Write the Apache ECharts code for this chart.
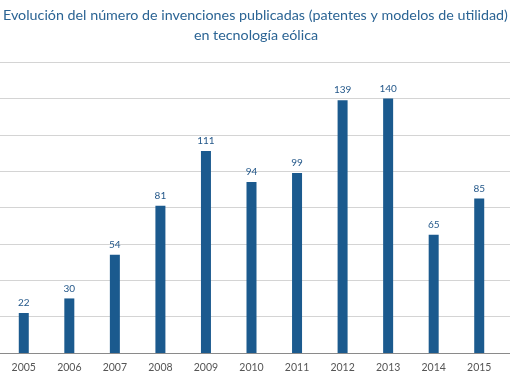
<!DOCTYPE html>
<html><head><meta charset="utf-8">
<script src="https://cdn.jsdelivr.net/npm/echarts@6/dist/echarts.min.js"></script>
<style>html,body{margin:0;padding:0;background:#fff}#c{width:510px;height:382px}</style>
</head><body><div id="c"></div>
<script>
var years = ['2005','2006','2007','2008','2009','2010','2011','2012','2013','2014','2015'];
var inventions = [22, 30, 54, 81, 111, 94, 99, 139, 140, 65, 85];
var titleLine1 = 'Evolución del número de invenciones publicadas (patentes y modelos de utilidad)';
var titleLine2 = 'en tecnología eólica';
var yMin = 0, yMax = 160, yStep = 20;

var titleFont = { fontFamily: 'Lato', fontWeight: 'normal', fontSize: 14.3, color: '#2b6494' };
var chart = echarts.init(document.getElementById('c'));
chart.setOption({
  animation: false,
  title: [
    { text: titleLine1, left: 3, top: 8, padding: 0, textStyle: titleFont },
    { text: titleLine2, left: 256, textAlign: 'center', top: 28, padding: 0, textStyle: titleFont }
  ],
  grid: [
    { left: 0, right: 0, top: 62, bottom: 29 },
    { left: 1, right: 8, top: 62, bottom: 29 }
  ],
  xAxis: [
    { gridIndex: 0, type: 'category', data: years, axisLabel: { show: false }, axisTick: { show: false },
      axisLine: { lineStyle: { color: '#8a8a8a', width: 1 } } },
    { gridIndex: 1, type: 'category', data: years, axisTick: { show: false }, axisLine: { show: false },
      axisLabel: { color: '#555', fontFamily: 'Lato', fontSize: 10.5, margin: 9 } }
  ],
  yAxis: [
    { gridIndex: 0, type: 'value', min: yMin, max: yMax, interval: yStep, axisLabel: { show: false },
      axisLine: { show: false }, axisTick: { show: false },
      splitLine: { lineStyle: { color: '#d4d4d4', width: 1 } } },
    { gridIndex: 1, type: 'value', min: yMin, max: yMax, interval: yStep, show: false, splitLine: { show: false } }
  ],
  series: [{
    type: 'bar', xAxisIndex: 1, yAxisIndex: 1, data: inventions, barWidth: 10,
    itemStyle: { color: '#1b5a8e' },
    label: { show: true, position: 'top', distance: 5, color: '#24588a', fontFamily: 'Lato', fontSize: 10 }
  }]
});
</script></body></html>
